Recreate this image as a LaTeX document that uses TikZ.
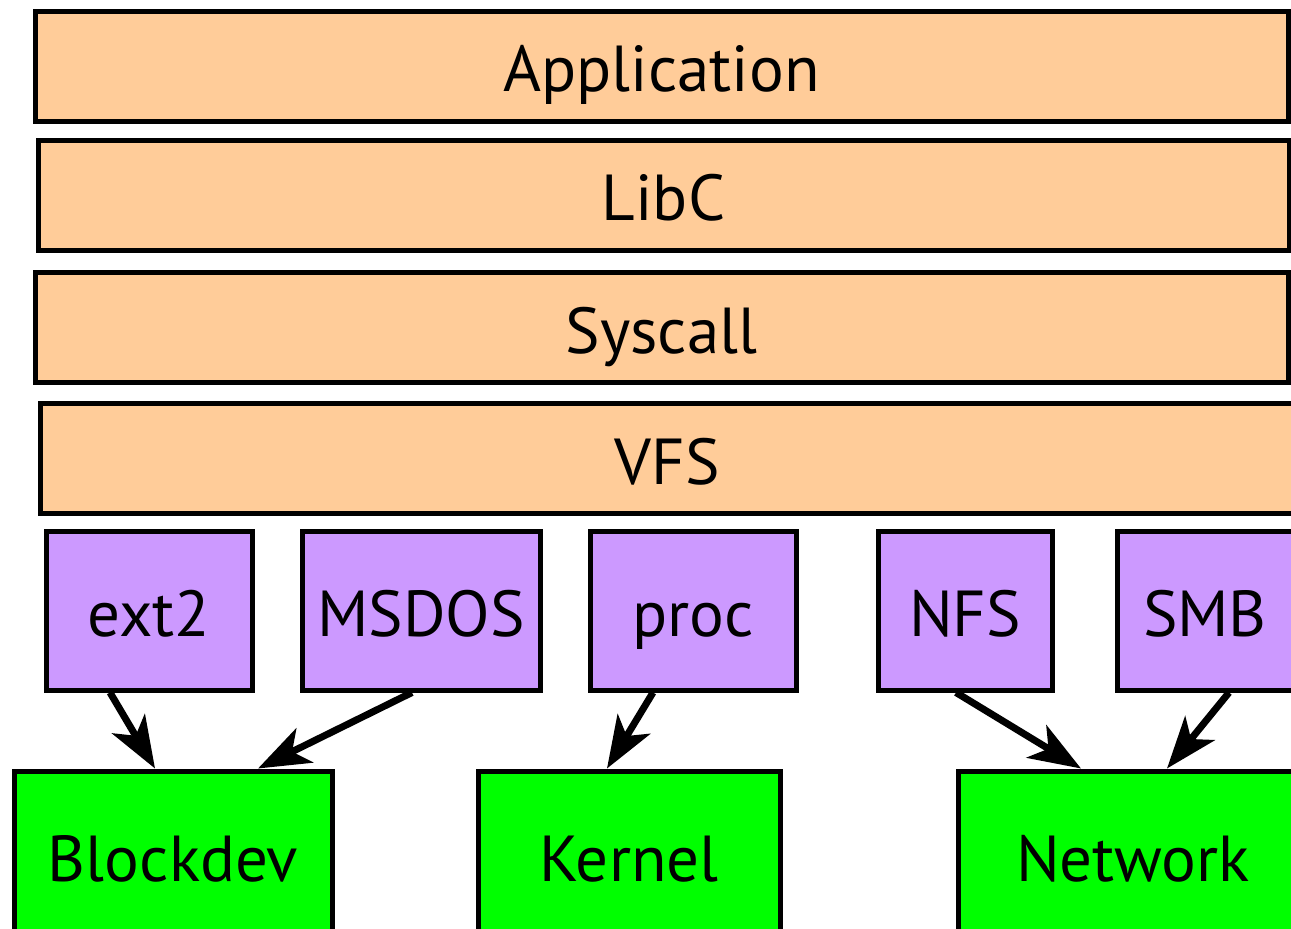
\documentclass[tikz,border=0pt]{standalone}
\usepackage{fontspec}
\setmainfont{PT Sans}
\usetikzlibrary{arrows.meta}

\definecolor{layerfill}{HTML}{FFCC99}
\definecolor{fsfill}{HTML}{CC99FF}
\definecolor{devfill}{HTML}{00FF00}

\tikzset{
  box/.style={draw=black, line width=5pt, inner sep=0pt, rectangle,
    font=\fontsize{65}{65}\selectfont, text height=51pt, text depth=0pt},
  layer/.style={box, fill=layerfill, minimum height=110pt},
  fsbox/.style={box, fill=fsfill, minimum height=159pt},
  devbox/.style={box, fill=devfill, minimum height=170pt},
  link/.style={line width=7pt, -{Stealth[length=52pt, width=38pt, inset=14pt]}}
}

\begin{document}
\begin{tikzpicture}[x=1pt, y=-1pt]
  \useasboundingbox (0,0) rectangle (1291,929);
  \clip (0,0) rectangle (1291,929);

  % software layers
  \node[layer, minimum width=1253pt] (app)     at (661.5,66)   {Application};
  \node[layer, minimum width=1251pt] (libc)    at (663.5,195)  {LibC};
  \node[layer, minimum width=1253pt] (syscall) at (661.5,327.5){Syscall};
  \node[layer, minimum width=1254pt] (vfs)     at (667,458.5)  {VFS};

  % file systems
  \node[fsbox, minimum width=206pt] (ext2)  at (149,610.5)  {ext2};
  \node[fsbox, minimum width=238pt] (msdos) at (421,610.5)  {MSDOS};
  \node[fsbox, minimum width=206pt] (proc)  at (693,610.5)  {proc};
  \node[fsbox, minimum width=174pt] (nfs)   at (965,610.5)  {NFS};
  \node[fsbox, minimum width=176pt] (smb)   at (1205,610.5) {SMB};

  % backends
  \node[devbox, minimum width=318pt] (blockdev) at (173,856)  {Blockdev};
  \node[devbox, minimum width=302pt] (kernel)   at (629,856)  {Kernel};
  \node[devbox, minimum width=350pt] (network)  at (1133,856) {Network};

  % connections
  \draw[link] ([xshift=-39pt]ext2.south)  -- ([xshift=-18pt]blockdev.north);
  \draw[link] ([xshift=-9pt]msdos.south)  -- ([xshift=85pt]blockdev.north);
  \draw[link] ([xshift=-40pt]proc.south)  -- ([xshift=-22pt]kernel.north);
  \draw[link] ([xshift=-9pt]nfs.south)    -- ([xshift=-52pt]network.north);
  \draw[link] ([xshift=24pt]smb.south)    -- ([xshift=34pt]network.north);
\end{tikzpicture}
\end{document}
